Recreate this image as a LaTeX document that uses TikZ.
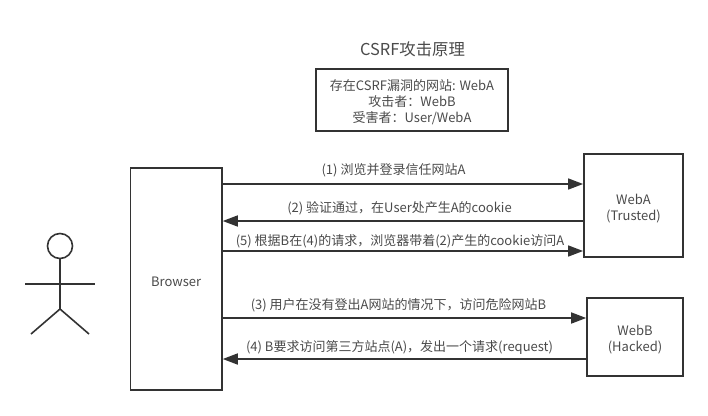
\documentclass[tikz,border=0pt]{standalone}
\usepackage{fontspec}
\setmainfont{Noto Sans CJK SC}
\usetikzlibrary{arrows.meta}
\definecolor{inkgray}{HTML}{333333}
\definecolor{textgray}{HTML}{4A4A4A}
\newcommand{\topstrut}{\rule{0pt}{16pt}}
\tikzset{
  box/.style={draw=inkgray, line width=1.6pt, rectangle, inner sep=0pt, align=center, text=textgray, font=\fontsize{13}{16}\selectfont},
  msg/.style={text=textgray, font=\fontsize{13}{16}\selectfont, inner sep=0pt},
  flow/.style={draw=inkgray, line width=1.6pt, -{Triangle[length=15pt,width=11pt]}},
  limb/.style={draw=inkgray, line width=1.6pt}
}
\begin{document}
\begin{tikzpicture}[x=1pt, y=-1pt]
\useasboundingbox (0,0) rectangle (708,415);
\node[text=textgray, font=\fontsize{16.4}{20}\selectfont, inner sep=0pt] (title) at (412.5,49) {CSRF攻击原理};
\node[box, minimum width=192pt, minimum height=61.5pt] (info) at (412,100) {\topstrut 存在CSRF漏洞的网站: WebA\\攻击者：WebB\\受害者：User/WebA};

\node[box, minimum width=91.5pt, minimum height=222pt] (browser) at (176.2,279) {\topstrut Browser};
\node[box, minimum width=99pt, minimum height=102.5pt] (weba) at (633.4,205.5) {\topstrut WebA\\(Trusted)};
\node[box, minimum width=96pt, minimum height=77.5pt] (webb) at (635,337) {\topstrut WebB\\(Hacked)};

\node[msg] (m1) at (393.5,170) {(1) 浏览并登录信任网站A};
\node[msg] (m2) at (399.5,208) {(2) 验证通过，在User处产生A的cookie};
\node[msg] (m5) at (400,241) {(5) 根据B在(4)的请求，浏览器带着(2)产生的cookie访问A};
\node[msg] (m3) at (398.5,305) {(3) 用户在没有登出A网站的情况下，访问危险网站B};
\node[msg] (m4) at (399.5,347) {(4) B要求访问第三方站点(A)，发出一个请求(request)};

\draw[flow] (browser.east |- 0,184) -- (weba.west |- 0,184);
\draw[flow] (weba.west |- 0,221) -- (browser.east |- 0,221);
\draw[flow] (browser.east |- 0,251) -- (weba.west |- 0,251);
\draw[flow] (browser.east |- 0,318) -- (webb.west |- 0,318);
\draw[flow] (webb.west |- 0,359) -- (browser.east |- 0,359);

% actor
\node[draw=inkgray, line width=1.6pt, circle, minimum size=25pt, inner sep=0pt] (head) at (60,246) {};
\coordinate (hip) at (60,309);
\coordinate (handl) at (25,284);
\coordinate (handr) at (95,284);
\coordinate (footl) at (31,334);
\coordinate (footr) at (89,334);
\draw[limb] (head.south) -- (hip);
\draw[limb] (handl) -- (handr);
\draw[limb] (footl) -- (hip) -- (footr);
\end{tikzpicture}
\end{document}
